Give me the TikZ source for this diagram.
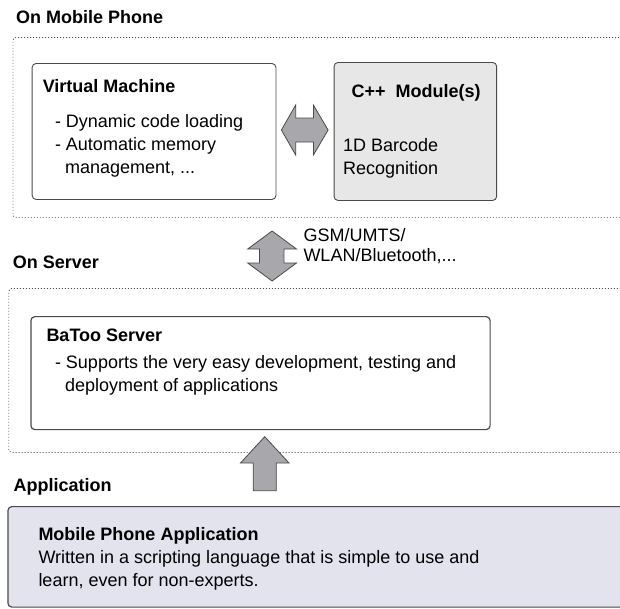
\documentclass[tikz,border=0pt]{standalone}
\usepackage{fontspec}
\setmainfont{Liberation Sans}
\usepackage{tikz}
\definecolor{edgegray}{HTML}{4A4A4A}
\definecolor{modgray}{HTML}{E7E7E8}
\definecolor{appfill}{HTML}{E3E3EE}
\definecolor{arrowgray}{HTML}{A8A8AC}

\begin{document}
\begin{tikzpicture}[x=1pt, y=-1pt,
    region/.style={draw=edgegray, line width=0.8pt, dash pattern=on 0.9pt off 2.1pt, rounded corners=3pt, inner sep=0pt},
    panel/.style={draw=edgegray, line width=0.9pt, rounded corners=4pt, inner sep=0pt, anchor=north west},
    lbl/.style={inner sep=0pt, anchor=base west, font=\fontsize{18pt}{23pt}\selectfont},
    head/.style={lbl, font=\fontsize{18pt}{23pt}\selectfont\bfseries},
    fatarrow/.style={fill=arrowgray, draw=edgegray, line width=0.8pt, line join=miter}]
    \useasboundingbox (0,0) rectangle (620,608);
    \clip (0,0) rectangle (620,608);

    % regions
    \node[region, anchor=north west, minimum width=630pt, minimum height=180pt] (phone) at (12.6,37) {};
    \node[region, anchor=north west, minimum width=630pt, minimum height=164pt] (server) at (8.4,288) {};
    \node[head] (phonettl) at (16,23) {On Mobile Phone};
    \node[head] (serverttl) at (12.6,268) {On Server};
    \node[head] (appttl) at (13.5,491.7) {Application};

    % boxes
    \node[panel, fill=white, minimum width=243.8pt, minimum height=136pt] (vm) at (31.7,63) {};
    \node[panel, fill=modgray, minimum width=162.6pt, minimum height=138pt] (cpp) at (333.6,62) {};
    \node[panel, fill=white, line width=1.2pt, minimum width=459.2pt, minimum height=113pt] (batoo) at (30.3,316) {};
    \node[panel, fill=appfill, line width=1.2pt, minimum width=640pt, minimum height=100.5pt] (app) at (7.3,506) {};

    % virtual machine
    \node[head] (vmttl) at (42.6,92) {Virtual Machine};
    \node[lbl] (vmone) at (54.8,127) {- Dynamic code loading};
    \node[lbl] (vmtwo) at (54.8,150) {- Automatic memory};
    \node[lbl] (vmthree) at (64.9,173) {management, ...};

    % c++ module
    \node[head] (cppttl) at (351.3,97) {C++~~Module(s)};
    \node[lbl] (cppone) at (342.9,151) {1D Barcode};
    \node[lbl] (cpptwo) at (342.9,174) {Recognition};

    % server
    \node[head] (batoottl) at (46.3,341.7) {BaToo Server};
    \node[lbl] (batooone) at (54.8,368) {- Supports the very easy development, testing and};
    \node[lbl] (batootwo) at (64.9,391.7) {deployment of applications};

    % application
    \node[head] (appone) at (38.3,540) {Mobile Phone Application};
    \node[lbl] (apptwo) at (38.3,563) {Written in a scripting language that is simple to use and};
    \node[lbl] (appthree) at (38.3,586.7) {learn, even for non-experts.};

    % links
    \node[lbl] (netone) at (303.3,241.7) {GSM/UMTS/};
    \node[lbl] (nettwo) at (303.3,261.7) {WLAN/Bluetooth,...};

    \draw[fatarrow] (281.4,130) -- (295.7,105) -- (295.7,118) -- (313.4,118) -- (313.4,105) -- (328.1,130)
        -- (313.4,155) -- (313.4,142) -- (295.7,142) -- (295.7,155) -- cycle;
    \draw[fatarrow] (272.1,231) -- (296.5,249) -- (283.9,249) -- (283.9,263) -- (296.5,263) -- (272.1,281)
        -- (247.7,263) -- (259.5,263) -- (259.5,249) -- (247.7,249) -- cycle;
    \draw[fatarrow] (264.7,436.7) -- (289,463) -- (276.3,463) -- (276.3,490.7) -- (253.2,490.7)
        -- (253.2,463) -- (240.5,463) -- cycle;
\end{tikzpicture}
\end{document}
